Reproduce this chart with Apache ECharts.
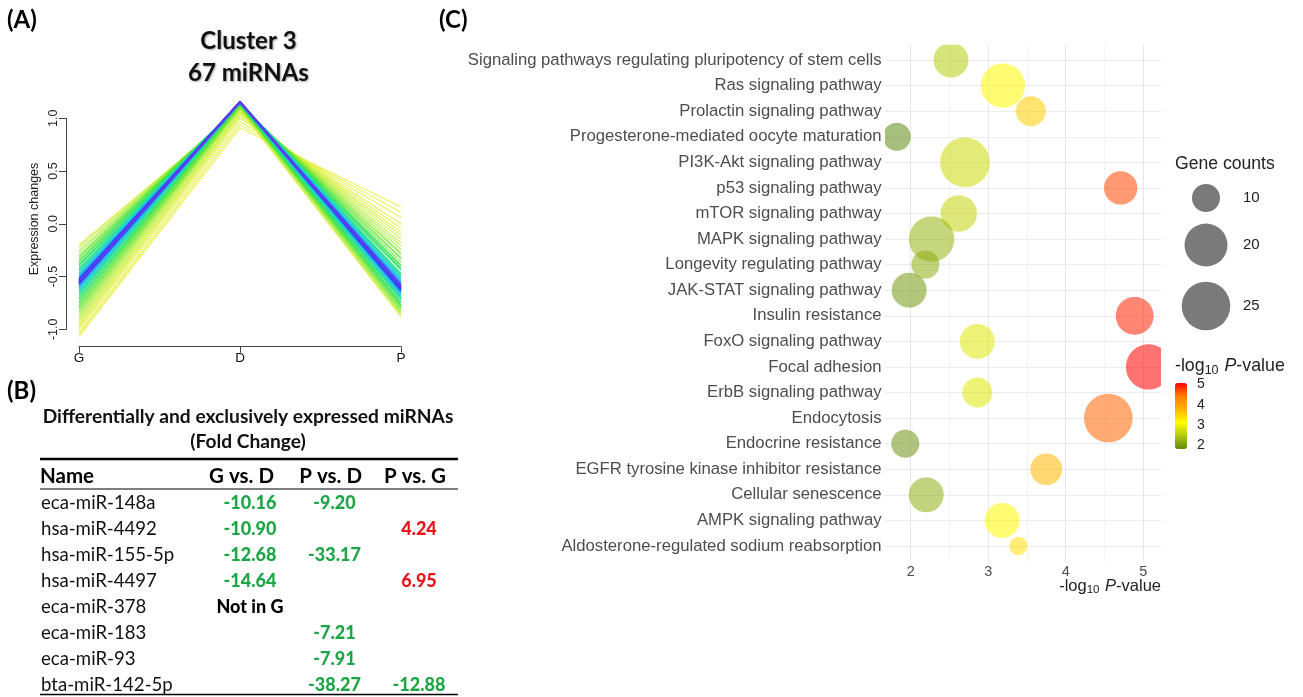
<!DOCTYPE html>
<html>
<head>
<meta charset="utf-8">
<script src="https://cdn.jsdelivr.net/npm/echarts@6/dist/echarts.min.js"></script>
<style>
  html, body { margin: 0; padding: 0; background: #ffffff; }
  #chart { width: 1303px; height: 697px; }
</style>
</head>
<body>
<div id="chart"></div>
<script>
// ---------- (A) Cluster 3: standardized expression profiles (67 miRNAs) ----------
const stages = ['G', 'D', 'P'];
const profileG = [-0.20,-0.22,-0.25,-0.27,-0.30,-0.31,-0.33,-0.35,-0.36,-0.38,
                  -0.39,-0.40,-0.42,-0.43,-0.44,-0.45,-0.46,-0.47,-0.48,-0.49,
                  -0.50,-0.50,-0.51,-0.52,-0.52,-0.53,-0.53,-0.54,-0.54,-0.55,
                  -0.55,-0.56,-0.56,-0.57,-0.57,-0.58,-0.59,-0.60,-0.61,-0.62,
                  -0.63,-0.64,-0.65,-0.66,-0.67,-0.68,-0.70,-0.71,-0.72,-0.74,
                  -0.75,-0.77,-0.79,-0.80,-0.82,-0.84,-0.86,-0.88,-0.90,-0.92,
                  -0.94,-0.96,-0.98,-1.00,-1.03,-1.05,-1.07];
const profileD = [1.08,1.09,1.10,1.11,1.12,1.12,1.12,1.13,1.13,1.13,
                  1.14,1.14,1.14,1.14,1.14,1.15,1.15,1.15,1.15,1.15,
                  1.15,1.16,1.15,1.15,1.16,1.15,1.15,1.15,1.16,1.15,
                  1.16,1.15,1.16,1.15,1.16,1.15,1.15,1.15,1.15,1.15,
                  1.15,1.15,1.15,1.15,1.15,1.15,1.14,1.14,1.14,1.14,
                  1.14,1.13,1.12,1.12,1.11,1.11,1.10,1.09,1.08,1.06,
                  1.05,1.04,1.02,1.00,0.97,0.94,0.91];
const profileP = [-0.88,-0.87,-0.85,-0.84,-0.82,-0.81,-0.79,-0.78,-0.77,-0.75,
                  -0.75,-0.74,-0.72,-0.71,-0.70,-0.70,-0.69,-0.68,-0.67,-0.66,
                  -0.65,-0.66,-0.64,-0.63,-0.64,-0.62,-0.62,-0.61,-0.62,-0.60,
                  -0.61,-0.59,-0.60,-0.58,-0.59,-0.57,-0.56,-0.55,-0.54,-0.53,
                  -0.52,-0.51,-0.50,-0.49,-0.48,-0.47,-0.44,-0.43,-0.42,-0.40,
                  -0.39,-0.36,-0.33,-0.32,-0.29,-0.27,-0.24,-0.21,-0.18,-0.14,
                  -0.11,-0.08,-0.04,0.00,0.06,0.11,0.16];
const membership = [0.15,0.20,0.25,0.30,0.35,0.38,0.42,0.45,0.47,0.50,
                    0.52,0.54,0.58,0.60,0.62,0.65,0.68,0.70,0.73,0.76,
                    0.80,0.81,0.84,0.87,0.88,0.91,0.92,0.95,0.96,0.99,
                    0.98,0.97,0.94,0.93,0.90,0.86,0.83,0.80,0.77,0.74,
                    0.71,0.69,0.66,0.63,0.61,0.59,0.55,0.53,0.51,0.48,
                    0.46,0.43,0.40,0.38,0.35,0.32,0.29,0.26,0.23,0.20,
                    0.18,0.15,0.13,0.11,0.09,0.07,0.05];

// ---------- (B) Differentially and exclusively expressed miRNAs ----------
const mirnaNames = ['eca-miR-148a','hsa-miR-4492','hsa-miR-155-5p','hsa-miR-4497',
                    'eca-miR-378','eca-miR-183','eca-miR-93','bta-miR-142-5p'];
const tableColumns = ['G vs. D', 'P vs. D', 'P vs. G'];
const foldGvsD = [-10.16, -10.90, -12.68, -14.64, 'Not in G', null, null, null];
const foldPvsD = [-9.20, null, -33.17, null, null, -7.21, -7.91, -38.27];
const foldPvsG = [null, 4.24, null, 6.95, null, null, null, -12.88];

// ---------- (C) KEGG pathway enrichment ----------
const pathways = ['Signaling pathways regulating pluripotency of stem cells','Ras signaling pathway',
  'Prolactin signaling pathway','Progesterone-mediated oocyte maturation','PI3K-Akt signaling pathway',
  'p53 signaling pathway','mTOR signaling pathway','MAPK signaling pathway','Longevity regulating pathway',
  'JAK-STAT signaling pathway','Insulin resistance','FoxO signaling pathway','Focal adhesion',
  'ErbB signaling pathway','Endocytosis','Endocrine resistance','EGFR tyrosine kinase inhibitor resistance',
  'Cellular senescence','AMPK signaling pathway','Aldosterone-regulated sodium reabsorption'];
const negLogP = [2.52, 3.19, 3.55, 1.82, 2.70, 4.71, 2.62, 2.27, 2.19, 1.98,
                 4.89, 2.86, 5.07, 2.86, 4.55, 1.93, 3.75, 2.20, 3.18, 3.39];
const geneCounts = [14, 21, 11, 10, 26, 13, 15, 22, 10, 14,
                    16, 14, 22, 11, 25, 10, 12, 14, 14, 6];
const xTicksC = [2, 3, 4, 5];
const xMinorC = [2.5, 3.5, 4.5];
const sizeLegendCounts = [10, 20, 25];
const colorTicks = [2, 3, 4, 5];

// ---------- styling helpers ----------
const SANS = '"Liberation Sans", Arial, sans-serif';
const CALI = 'Lato, "Open Sans", sans-serif';

function hexToRgb(h) { return [1, 3, 5].map(i => parseInt(h.slice(i, i + 2), 16)); }
function mix(a, b, t) {
  const A = hexToRgb(a), B = hexToRgb(b);
  return 'rgb(' + A.map((v, i) => Math.round(v + (B[i] - v) * t)).join(',') + ')';
}
// membership colour ramp: yellow -> green -> cyan -> blue, magenta for the core profile
const memStops = [[0, '#f2f040'], [0.15, '#d8f038'], [0.3, '#98ea30'], [0.45, '#48e43c'],
                  [0.6, '#22e08a'], [0.72, '#20d4d0'], [0.82, '#20a4f0'], [0.9, '#2a50ff'],
                  [0.98, '#3438f8'], [1.0, '#d040d0']];
function memColor(m) {
  for (let i = 1; i < memStops.length; i++) {
    if (m <= memStops[i][0]) {
      const [m0, c0] = memStops[i - 1], [m1, c1] = memStops[i];
      return mix(c0, c1, (m - m0) / (m1 - m0));
    }
  }
  return memStops[memStops.length - 1][1];
}

// bubble diameter from gene count (area-style scale)
const COUNT_LO = 4, COUNT_HI = 26, DIAM_LO = 4.4, DIAM_HI = 49.6;
function bubbleDiameter(n) {
  return DIAM_LO + (DIAM_HI - DIAM_LO) * Math.sqrt(Math.max(0, (n - COUNT_LO) / (COUNT_HI - COUNT_LO)));
}

const pMin = Math.min(...negLogP), pMax = Math.max(...negLogP);

// ---------- series ----------
const series = [];

// (A) profile lines, low membership drawn first
const order = membership.map((m, i) => i).sort((a, b) => membership[a] - membership[b]);
order.forEach(i => {
  series.push({
    type: 'line', xAxisIndex: 0, yAxisIndex: 0,
    data: [profileG[i], profileD[i], profileP[i]],
    symbol: 'none', clip: false, silent: true, z: 2,
    lineStyle: { width: membership[i] > 0.9 ? 1.5 : 1.1, color: memColor(membership[i]), opacity: 0.85 }
  });
});

// (B) table cells
const tableCells = [];
[foldGvsD, foldPvsD, foldPvsG].forEach((col, c) => {
  col.forEach((v, r) => {
    if (v === null) return;
    const isNum = typeof v === 'number';
    tableCells.push({
      name: isNum ? v.toFixed(2) : v,
      value: [c, r],
      label: { color: !isNum ? '#000000' : (v < 0 ? '#1ea646' : '#e8151c') }
    });
  });
});
series.push({
  type: 'scatter', xAxisIndex: 1, yAxisIndex: 1, silent: true,
  symbolSize: 1, itemStyle: { color: 'rgba(0,0,0,0)', opacity: 1 },
  label: { show: true, position: 'inside', formatter: '{b}',
           fontFamily: CALI, fontWeight: 900, fontSize: 18 },
  data: tableCells
});

// (C) panel grid lines
const gridLineData = [];
pathways.forEach((p, i) => gridLineData.push({ yAxis: i, lineStyle: { color: '#ebebeb', width: 1 } }));
xMinorC.forEach(v => gridLineData.push({ xAxis: v, lineStyle: { color: '#f3f3f3', width: 1 } }));
xTicksC.forEach(v => gridLineData.push({ xAxis: v, lineStyle: { color: '#e6e6e6', width: 1 } }));
series.push({
  type: 'scatter', xAxisIndex: 2, yAxisIndex: 2, data: [], silent: true, z: 1,
  markLine: { silent: true, symbol: 'none', label: { show: false }, animation: false, z: 1,
              lineStyle: { type: 'solid' }, data: gridLineData }
});

// (C) bubbles, clipped to the panel
const bubbleSeriesIndex = series.length;
series.push({
  type: 'custom', xAxisIndex: 2, yAxisIndex: 2, silent: true, z: 3,
  encode: { x: 0, y: 1 },
  data: pathways.map((p, i) => [negLogP[i], i, geneCounts[i]]),
  renderItem: function (params, api) {
    const c = api.coord([api.value(0), api.value(1)]);
    const r = bubbleDiameter(api.value(2)) / 2;
    const cs = params.coordSys;
    const pts = [];
    for (let k = 0; k < 96; k++) {
      const a = (k / 96) * Math.PI * 2;
      const px = Math.min(cs.x + cs.width, Math.max(cs.x, c[0] + r * Math.cos(a)));
      const py = Math.min(cs.y + cs.height, Math.max(cs.y, c[1] + r * Math.sin(a)));
      pts.push([px, py]);
    }
    return {
      type: 'polygon',
      shape: { points: pts },
      style: { fill: api.visual('color'), opacity: 0.55 }
    };
  }
});

// ---------- graphic text / rules / size legend ----------
const graphic = [];
function txt(x, y, text, opts) {
  graphic.push(Object.assign({ type: 'text', x: x, y: y, silent: true,
    style: Object.assign({ text: text, align: 'left', verticalAlign: 'middle', fill: '#000' }, opts.style) },
    opts.el || {}));
}
const panelLabel = { fontFamily: CALI, fontWeight: 'bold', fontSize: 24, fill: '#000' };
txt(7, 20, '(A)', { style: panelLabel });
txt(7, 391, '(B)', { style: panelLabel });
txt(439, 20, '(C)', { style: panelLabel });

const clusterTitle = { fontFamily: CALI, fontWeight: 'bold', fontSize: 24, fill: '#111', align: 'center',
                       textShadowColor: 'rgba(0,0,0,0.35)', textShadowBlur: 2, textShadowOffsetX: 1, textShadowOffsetY: 1 };
txt(248.5, 41, 'Cluster 3', { style: clusterTitle });
txt(248.5, 73.5, '67 miRNAs', { style: clusterTitle });
txt(35, 219, 'Expression changes', { style: { fontFamily: SANS, fontSize: 12.5, fill: '#222', align: 'center' },
                                      el: { rotation: Math.PI / 2 } });

// table title, header and rules
const tblTitle = { fontFamily: CALI, fontWeight: 'bold', fontSize: 19.2, fill: '#111', align: 'center' };
txt(248, 417, 'Differentially and exclusively expressed miRNAs', { style: tblTitle });
txt(248, 442, '(Fold Change)', { style: tblTitle });
const hdr = { fontFamily: CALI, fontWeight: 'bold', fontSize: 20.5, fill: '#000' };
txt(40, 476, 'Name', { style: hdr });
const headerRight = [274, 362, 446];
tableColumns.forEach((h, i) => txt(headerRight[i], 476, h, { style: Object.assign({}, hdr, { align: 'right' }) }));
[[459, 2.5], [489, 1.2], [694.5, 1.6]].forEach(([y, w]) => graphic.push({
  type: 'line', silent: true, shape: { x1: 40, y1: y, x2: 458, y2: y }, style: { stroke: '#000', lineWidth: w }
}));

// (C) axis title and legends
function logPRich(size, subSize) {
  return {
    sub: { fontFamily: SANS, fontSize: subSize, fill: '#222', verticalAlign: 'bottom', lineHeight: subSize + 3, padding: [0, 1, 0, 0] },
    it: { fontFamily: SANS, fontSize: size, fontStyle: 'italic', fill: '#222', lineHeight: size + 4 }
  };
}
graphic.push({ type: 'text', x: 1161, y: 586, silent: true,
  style: { text: '-log{sub|10} {it|P}-value', rich: logPRich(16.5, 11.5), fontFamily: SANS, fontSize: 16.5, fill: '#222',
           lineHeight: 20.5, align: 'right', verticalAlign: 'middle' } });
graphic.push({ type: 'text', x: 1175, y: 366, silent: true,
  style: { text: '-log{sub|10} {it|P}-value', rich: logPRich(17.8, 12.5), fontFamily: SANS, fontSize: 17.8, fill: '#222',
           lineHeight: 21.8, align: 'left', verticalAlign: 'middle' } });

txt(1175, 164, 'Gene counts', { style: { fontFamily: SANS, fontSize: 17.6, fill: '#222' } });
const sizeLegendY = [198, 245, 306];
sizeLegendCounts.forEach((n, i) => {
  graphic.push({ type: 'circle', silent: true, shape: { cx: 1206, cy: sizeLegendY[i], r: bubbleDiameter(n) / 2 },
                 style: { fill: '#7a7a7a' } });
  txt(1243, sizeLegendY[i], String(n), { style: { fontFamily: SANS, fontSize: 15, fill: '#222' } });
});

// ---------- chart ----------
const chart = echarts.init(document.getElementById('chart'), null, { renderer: 'canvas' });
chart.setOption({
  backgroundColor: '#ffffff',
  animation: false,
  grid: [
    { left: 79, top: 118.3, width: 322, height: 211 },          // (A)
    { left: 207.75, top: 503, width: 253.5, height: 182 },      // (B) table
    { left: 885, top: 44.7, width: 276, height: 516.6 },        // (C)
    { left: 1187, top: 383, width: 1, height: 66 }              // (C) colour bar ticks
  ],
  xAxis: [
    { gridIndex: 0, type: 'category', data: stages, boundaryGap: false, offset: 17.4,
      axisLine: { onZero: false, lineStyle: { color: '#444', width: 1 } },
      axisTick: { length: 6, lineStyle: { color: '#444' } },
      axisLabel: { margin: 5, fontFamily: SANS, fontSize: 13.5, color: '#111' } },
    { gridIndex: 1, type: 'category', data: tableColumns, show: false },
    { gridIndex: 2, type: 'value', min: 1.668, max: 5.23,
      axisLine: { show: false }, axisTick: { show: false }, splitLine: { show: false },
      axisLabel: { customValues: xTicksC, margin: 3, fontFamily: SANS, fontSize: 14.5, color: '#4d4d4d' } },
    { gridIndex: 3, type: 'value', show: false }
  ],
  yAxis: [
    { gridIndex: 0, type: 'value', min: -1, max: 1, interval: 0.5, offset: 13,
      axisLine: { show: true, onZero: false, lineStyle: { color: '#444', width: 1 } },
      axisTick: { show: true, length: 7, lineStyle: { color: '#444' } },
      splitLine: { show: false },
      axisLabel: { rotate: 90, margin: 6, fontFamily: SANS, fontSize: 12.5, color: '#222',
                   formatter: v => v.toFixed(1) } },
    { gridIndex: 1, type: 'category', data: mirnaNames, inverse: true, boundaryGap: false,
      axisLine: { show: false }, axisTick: { show: false },
      axisLabel: { align: 'left', margin: 166.75, fontFamily: CALI, fontSize: 18.6, color: '#111' } },
    { gridIndex: 2, type: 'value', min: -0.6, max: 19.6, inverse: true,
      axisLine: { show: false }, axisTick: { show: false }, splitLine: { show: false },
      axisLabel: { customValues: pathways.map((p, i) => i), formatter: v => pathways[v] || '',
                   margin: 3.5, fontFamily: SANS, fontSize: 16.7, color: '#4d4d4d' } },
    { gridIndex: 3, type: 'value', min: pMin, max: pMax, position: 'right',
      axisLine: { show: false }, axisTick: { show: false }, splitLine: { show: false },
      axisLabel: { customValues: colorTicks, margin: 9, fontFamily: SANS, fontSize: 14, color: '#222' } }
  ],
  visualMap: {
    type: 'continuous', min: pMin, max: pMax, dimension: 0, seriesIndex: bubbleSeriesIndex,
    calculable: false, realtime: false, text: null, showLabel: false,
    left: 1175, top: 383, itemWidth: 12, itemHeight: 66, padding: 0,
    inRange: { color: ['#5f8a10', '#b0c810', '#ffff00', '#ffb400', '#ff7d00', '#ff0000'] }
  },
  series: series,
  graphic: graphic
});
</script>
</body>
</html>
